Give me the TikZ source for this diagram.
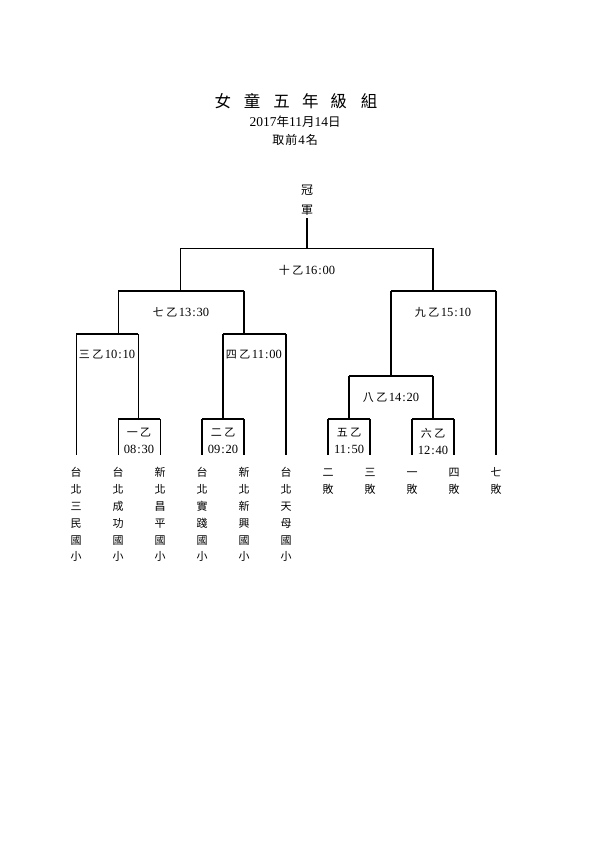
\documentclass[tikz,border=0pt]{standalone}
\usepackage{fontspec}
\setmainfont{Liberation Serif}
\newfontfamily\cjk{Noto Sans CJK TC}
\usetikzlibrary{positioning}

% game label: two CJK signs, then the time
\newcommand{\gm}[4]{{\cjk\fontsize{11}{12}\selectfont #1\hspace{2.5pt}#2}\hspace{1.5pt}#3\hspace{1pt}:\hspace{1pt}#4}
\newcommand{\gmtwo}[4]{{\cjk\fontsize{11}{12}\selectfont #1\hspace{2.5pt}#2}\\#3\hspace{1pt}:\hspace{1pt}#4}

\begin{document}
\begin{tikzpicture}[x=1pt, y=-1pt,
    bar/.style={line width=1.7pt},
    tbar/.style={line width=0.8pt},
    game/.style={inner sep=0pt, align=center, font=\fontsize{12.5}{17}\selectfont},
    leaf/.style={inner xsep=0pt, inner ysep=10pt, anchor=north, align=center,
                 font=\cjk\fontsize{11}{16.8}\selectfont}]
  \useasboundingbox (0,0) rectangle (595,842);
  %--- Heading
  \node[font=\cjk\fontsize{16.5}{18}\selectfont] (title) at (296,101)
    {女\hspace{13pt}童\hspace{13pt}五\hspace{12pt}年\hspace{12pt}級\hspace{14pt}組};
  \node[font=\fontsize{13.5}{15}\selectfont] (date) at (295,122)
    {2017{\cjk\fontsize{12.5}{14}\selectfont 年}11{\cjk\fontsize{12.5}{14}\selectfont 月}14{\cjk\fontsize{12.5}{14}\selectfont 日}};
  \node[font=\fontsize{13}{15}\selectfont] (top4) at (295,140)
    {{\cjk\fontsize{12}{14}\selectfont 取\hspace{1pt}前}\hspace{1pt}4\hspace{1pt}{\cjk\fontsize{12}{14}\selectfont 名}};
  %--- Champion
  \node[font=\cjk\fontsize{12}{20}\selectfont, align=center, inner sep=2pt, anchor=south]
    (champ) at (307,218) {冠\\軍};
  %--- Bar ends of each game
  \coordinate (m10L) at (180,248); \coordinate (m10R) at (433,248);
  \coordinate (m7L)  at (118,291); \coordinate (m7R)  at (244,291);
  \coordinate (m9L)  at (391,291); \coordinate (m9R)  at (496,291);
  \coordinate (m3L)  at (76,334);  \coordinate (m3R)  at (138,334);
  \coordinate (m4L)  at (223,334); \coordinate (m4R)  at (286,334);
  \coordinate (m8L)  at (349,376); \coordinate (m8R)  at (433,376);
  \coordinate (m1L)  at (118,419); \coordinate (m1R)  at (160,419);
  \coordinate (m2L)  at (202,419); \coordinate (m2R)  at (244,419);
  \coordinate (m5L)  at (328,419); \coordinate (m5R)  at (370,419);
  \coordinate (m6L)  at (412,419); \coordinate (m6R)  at (454,419);
  %--- Entrants
  \node[leaf] (t1)  at (76,455)  {\strut 台\\北\\三\\民\\國\\小};
  \node[leaf] (t2)  at (118,455) {\strut 台\\北\\成\\功\\國\\小};
  \node[leaf] (t3)  at (160,455) {\strut 新\\北\\昌\\平\\國\\小};
  \node[leaf] (t4)  at (202,455) {\strut 台\\北\\實\\踐\\國\\小};
  \node[leaf] (t5)  at (244,455) {\strut 新\\北\\新\\興\\國\\小};
  \node[leaf] (t6)  at (286,455) {\strut 台\\北\\天\\母\\國\\小};
  \node[leaf] (t7)  at (328,455) {\strut 二\\敗};
  \node[leaf] (t8)  at (370,455) {\strut 三\\敗};
  \node[leaf] (t9)  at (412,455) {\strut 一\\敗};
  \node[leaf] (t10) at (454,455) {\strut 四\\敗};
  \node[leaf] (t11) at (496,455) {\strut 七\\敗};
  %--- Game labels
  \node[game] (g10) at (307,270) {\gm{十}{乙}{16}{00}};
  \node[game] (g7)  at (181,312) {\gm{七}{乙}{13}{30}};
  \node[game] (g9)  at (443,312) {\gm{九}{乙}{15}{10}};
  \node[game] (g3)  at (107,355) {\gm{三}{乙}{10}{10}};
  \node[game] (g4)  at (254,355) {\gm{四}{乙}{11}{00}};
  \node[game] (g8)  at (391,398) {\gm{八}{乙}{14}{20}};
  \node[game] (g1)  at (139,441) {\gmtwo{一}{乙}{08}{30}};
  \node[game] (g2)  at (223,441) {\gmtwo{二}{乙}{09}{20}};
  \node[game] (g5)  at (349,441) {\gmtwo{五}{乙}{11}{50}};
  \node[game] (g6)  at (433,441) {\gmtwo{六}{乙}{12}{40}};
  %--- Final
  \draw[bar]  (champ.south) -- (champ.south |- m10L);
  \draw[tbar] (m10L) -- (m10R);
  \draw[tbar] (m10L) -- (m10L |- m7L);
  \draw[bar]  (m10R) -- (m10R |- m9L);
  %--- Left half
  \draw[bar]  (m7L) -- (m7R);
  \draw[tbar] (m7L) -- (m7L |- m3L);
  \draw[bar]  (m7R) -- (m7R |- m4L);
  \draw[bar]  (m3L) -- (m3R);
  \draw[tbar] (m3L) -- (t1.north);
  \draw[tbar] (m3R) -- (m3R |- m1L);
  \draw[bar]  (m1L) -- (m1R);
  \draw[tbar] (m1L) -- (t2.north);
  \draw[tbar] (m1R) -- (t3.north);
  \draw[bar]  (m4L) -- (m4R);
  \draw[bar]  (m4L) -- (m4L |- m2L);
  \draw[bar]  (m4R) -- (t6.north);
  \draw[bar]  (m2L) -- (m2R);
  \draw[bar]  (m2L) -- (t4.north);
  \draw[bar]  (m2R) -- (t5.north);
  %--- Right half
  \draw[bar]  (m9L) -- (m9R);
  \draw[bar]  (m9L) -- (m9L |- m8L);
  \draw[bar]  (m9R) -- (t11.north);
  \draw[bar]  (m8L) -- (m8R);
  \draw[bar]  (m8L) -- (m8L |- m5L);
  \draw[bar]  (m8R) -- (m8R |- m6L);
  \draw[bar]  (m5L) -- (m5R);
  \draw[bar]  (m5L) -- (t7.north);
  \draw[bar]  (m5R) -- (t8.north);
  \draw[bar]  (m6L) -- (m6R);
  \draw[bar]  (m6L) -- (t9.north);
  \draw[bar]  (m6R) -- (t10.north);
\end{tikzpicture}
\end{document}
